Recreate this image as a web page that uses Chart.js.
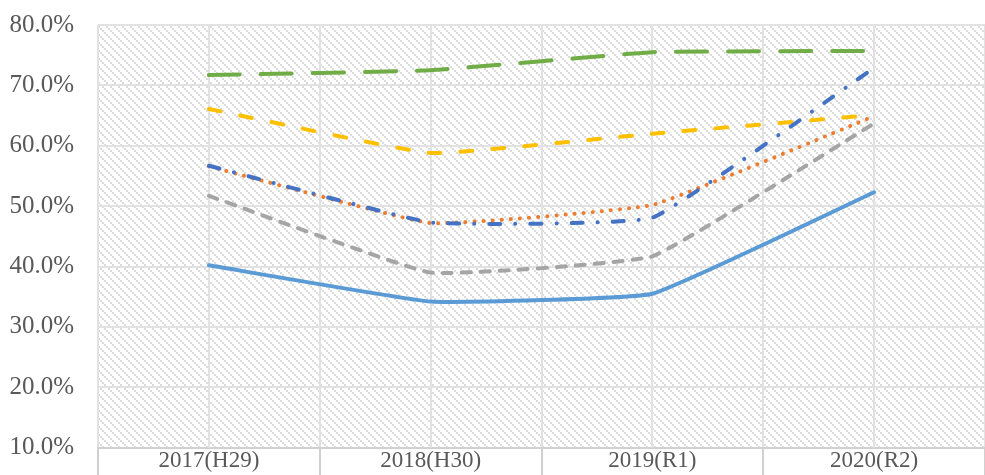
<!DOCTYPE html>
<html lang="ja">
<head>
<meta charset="utf-8">
<script src="https://cdn.jsdelivr.net/npm/chart.js@4/dist/chart.umd.min.js"></script>
<style>
  html, body { margin: 0; padding: 0; background: #fff; }
  #wrap { width: 985px; height: 475px; position: relative; }
</style>
</head>
<body>
<div id="wrap"><canvas id="chart"></canvas></div>
<script>
// 年度ラベル
var categories = ['2017(H29)', '2018(H30)', '2019(R1)', '2020(R2)'];
// 系列（%）
var seriesDarkBlue  = [56.7, 47.3, 48.1, 72.9];
var seriesOrange    = [56.6, 47.2, 50.2, 64.9];
var seriesGray      = [51.7, 39.0, 41.7, 63.7];
var seriesYellow    = [66.1, 58.8, 62.0, 65.1];
var seriesLightBlue = [40.2, 34.2, 35.5, 52.3];
var seriesGreen     = [71.7, 72.5, 75.5, 75.7];
// 縦軸目盛
var yTicks = [10, 20, 30, 40, 50, 60, 70, 80];

(function () {
  var TEXT = '#595959', GRID = '#e2e2e2', AXIS = '#d0d0d0';
  var FONT = '"Liberation Serif", "Noto Sans CJK JP", serif';

  // 背景の斜線パターン（Excel風、2px角の点を斜めに並べる）
  function makePattern(ctx) {
    var c = document.createElement('canvas');
    c.width = 8; c.height = 8;
    var g = c.getContext('2d');
    g.fillStyle = '#ffffff'; g.fillRect(0, 0, 8, 8);
    g.fillStyle = '#dcdcdc';
    for (var i = 0; i < 8; i += 2) g.fillRect(i, i, 2, 2);
    return ctx.createPattern(c, 'repeat');
  }

  var bgPlugin = {
    id: 'bgPattern',
    beforeDraw: function (chart) {
      var a = chart.chartArea, ctx = chart.ctx;
      ctx.save();
      ctx.fillStyle = makePattern(ctx);
      ctx.fillRect(a.left, a.top, a.right - a.left, a.bottom - a.top);
      ctx.restore();
    }
  };

  // カテゴリ中央の縦線 + 軸下の区切り線（境界の縦線はgrid.offsetで描く）
  var extraLines = {
    id: 'extraLines',
    beforeDatasetsDraw: function (chart) {
      var a = chart.chartArea, ctx = chart.ctx, xs = chart.scales.x;
      ctx.save();
      ctx.lineWidth = 2;
      ctx.strokeStyle = GRID;
      categories.forEach(function (c, i) {
        var px = Math.round(xs.getPixelForValue(i));
        ctx.beginPath(); ctx.moveTo(px, a.top); ctx.lineTo(px, a.bottom); ctx.stroke();
      });
      ctx.strokeStyle = AXIS;
      var step = xs.getPixelForValue(1) - xs.getPixelForValue(0);
      for (var i = 0; i <= categories.length; i++) {
        var bx = Math.round(xs.getPixelForValue(0) - step / 2 + i * step);
        ctx.beginPath(); ctx.moveTo(bx, a.bottom); ctx.lineTo(bx, chart.height); ctx.stroke();
      }
      ctx.restore();
    }
  };

  function ds(data, color, dash) {
    return {
      data: data, borderColor: color, backgroundColor: color,
      borderWidth: 4, borderDash: dash, borderCapStyle: 'round', borderJoinStyle: 'round',
      pointRadius: 0, pointHoverRadius: 0, tension: 0.1, fill: false
    };
  }

  new Chart(document.getElementById('chart').getContext('2d'), {
    type: 'line',
    data: {
      labels: categories,
      datasets: [
        ds(seriesDarkBlue, '#4472C4', [11, 15, 0.1, 15]),
        ds(seriesOrange, '#ED7D31', [0.1, 9]),
        ds(seriesGray, '#A5A5A5', [9, 10]),
        ds(seriesYellow, '#FFC000', [12, 20]),
        ds(seriesLightBlue, '#5B9BD5', []),
        ds(seriesGreen, '#70AD47', [31, 21])
      ]
    },
    options: {
      responsive: true, maintainAspectRatio: false, animation: false,
      layout: { padding: { left: 6, right: 0, top: 0, bottom: 0 } },
      plugins: { legend: { display: false }, tooltip: { enabled: false } },
      scales: {
        x: {
          offset: true,
          grid: { offset: true, color: GRID, lineWidth: 2, drawTicks: false },
          border: { color: AXIS, width: 2 },
          ticks: { color: TEXT, font: { family: FONT, size: 23, lineHeight: 1.1 }, padding: 1, maxRotation: 0, autoSkip: false }
        },
        y: {
          min: yTicks[0], max: yTicks[yTicks.length - 1],
          afterBuildTicks: function (s) { s.ticks = yTicks.map(function (v) { return { value: v }; }); },
          // 目盛ラベルの余白がグラフ上下に加算されないよう調整
          afterFit: function (s) { s.width = 92; s.paddingTop = 25; s.paddingBottom = 0; },
          grid: { color: GRID, lineWidth: 2, drawTicks: false },
          border: { display: false },
          ticks: {
            color: TEXT, font: { family: FONT, size: 25 }, padding: 24,
            callback: function (v) { return v.toFixed(1) + '%'; }
          }
        }
      }
    },
    plugins: [bgPlugin, extraLines]
  });
})();
</script>
</body>
</html>
